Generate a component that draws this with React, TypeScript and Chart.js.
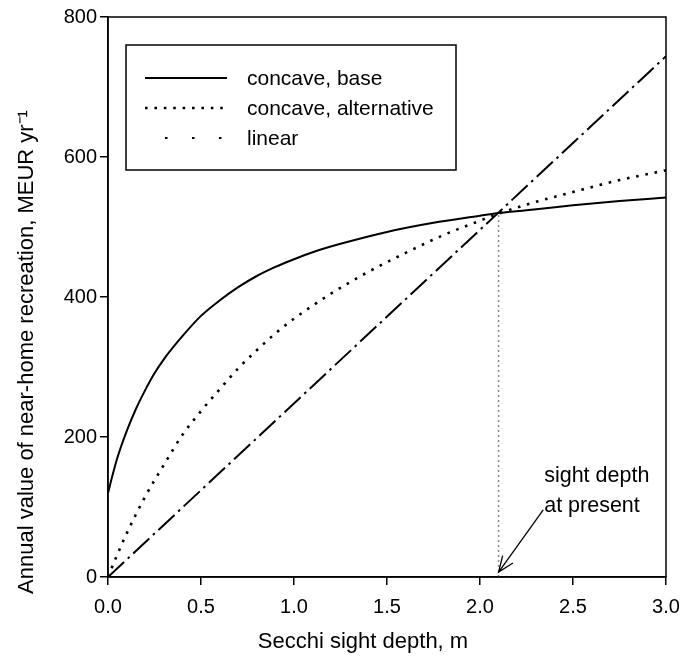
import React, { useEffect, useRef } from "react";
import { Chart, registerables } from "chart.js";

Chart.register(...registerables);

// ---- data ----
const seriesLabels = ["concave, base", "concave, alternative", "linear"];

const baseX = [0, 0.025, 0.05, 0.1, 0.15, 0.2, 0.25, 0.3, 0.4, 0.5, 0.6, 0.7, 0.8, 0.9, 1.0, 1.1, 1.25, 1.5, 1.75, 2.0, 2.1, 2.25, 2.5, 2.75, 3.0];
const baseY = [120, 146, 170, 208, 240, 267, 291, 311, 344, 373, 395, 414, 430, 443, 454, 464, 476, 493, 506, 516, 520, 524, 531, 537, 542];

const altX = [0, 0.05, 0.1, 0.2, 0.3, 0.4, 0.5, 0.6, 0.7, 0.8, 0.9, 1.0, 1.2, 1.4, 1.6, 1.8, 2.0, 2.1, 2.25, 2.5, 2.75, 3.0];
const altY = [0, 32, 62, 115, 160, 203, 237, 268, 298, 324, 348, 369, 405, 436, 463, 488, 509, 519, 532, 550, 567, 581];

const linX = [0, 3.0];
const linY = [0, 744];

const presentX = [2.1, 2.1];
const presentY = [0, 520];

const xTicks = [0, 0.5, 1.0, 1.5, 2.0, 2.5, 3.0];
const yTicks = [0, 200, 400, 600, 800];

const xTitle = "Secchi sight depth, m";
const yTitle = "Annual value of near-home recreation, MEUR yr\u207B\u00B9";

const noteLines = ["sight depth", "at present"];
const noteX = 2.345;
const noteY = [136, 93];
const arrowFrom = [2.34, 96];
const arrowTo = [2.1, 7];

const FONT = '"Liberation Sans", Arial, Helvetica, sans-serif';

const pts = (xs: number[], ys: number[]) => xs.map((x, i) => ({ x, y: ys[i] }));

const decorPlugin = {
  id: "decor",
  afterDraw(chart: any) {
    const { ctx, chartArea, scales } = chart;
    const { left, right, top, bottom } = chartArea;
    const xs = scales.x;
    const ys = scales.y;
    ctx.save();

    // frame
    ctx.strokeStyle = "#000";
    ctx.lineWidth = 1.5;
    ctx.setLineDash([]);
    ctx.strokeRect(left, top, right - left, bottom - top);

    // legend box
    const lx = left + 18;
    const ly = top + 28;
    const lw = 330;
    const lh = 125;
    ctx.fillStyle = "#fff";
    ctx.fillRect(lx, ly, lw, lh);
    ctx.lineWidth = 1.5;
    ctx.strokeRect(lx, ly, lw, lh);

    const rowsY = [top + 61, top + 91, top + 121];
    const sx0 = lx + 19;
    const sx1 = lx + 101;
    const tx = lx + 121;
    chart.data.datasets.slice(0, 3).forEach((ds: any, i: number) => {
      ctx.save();
      ctx.strokeStyle = ds.borderColor;
      ctx.lineWidth = ds.borderWidth;
      ctx.lineCap = "butt";
      if (i === 2) {
        ctx.setLineDash([2.5, 24.5]);
        ctx.lineDashOffset = 7;
      } else {
        ctx.setLineDash(ds.borderDash || []);
      }
      ctx.beginPath();
      ctx.moveTo(sx0, rowsY[i]);
      ctx.lineTo(sx1, rowsY[i]);
      ctx.stroke();
      ctx.restore();
      ctx.fillStyle = "#000";
      ctx.font = `21px ${FONT}`;
      ctx.textAlign = "left";
      ctx.textBaseline = "middle";
      ctx.fillText(ds.label, tx, rowsY[i] + 1);
    });

    // axis titles
    ctx.fillStyle = "#000";
    ctx.font = `22px ${FONT}`;
    ctx.textAlign = "center";
    ctx.textBaseline = "alphabetic";
    ctx.fillText(xTitle, 363, 648);

    ctx.save();
    ctx.translate(27, 352);
    ctx.rotate(-Math.PI / 2);
    ctx.textBaseline = "middle";
    ctx.fillText(yTitle, 0, 0);
    ctx.restore();

    // annotation text
    ctx.font = `21.5px ${FONT}`;
    ctx.textAlign = "left";
    ctx.textBaseline = "alphabetic";
    noteLines.forEach((t, i) => {
      ctx.fillText(t, xs.getPixelForValue(noteX), ys.getPixelForValue(noteY[i]));
    });

    // arrow
    const ax0 = xs.getPixelForValue(arrowFrom[0]);
    const ay0 = ys.getPixelForValue(arrowFrom[1]);
    const ax1 = xs.getPixelForValue(arrowTo[0]);
    const ay1 = ys.getPixelForValue(arrowTo[1]);
    ctx.strokeStyle = "#000";
    ctx.lineWidth = 1.3;
    ctx.beginPath();
    ctx.moveTo(ax0, ay0);
    ctx.lineTo(ax1, ay1);
    const ang = Math.atan2(ay0 - ay1, ax0 - ax1);
    const hl = 17;
    const spread = 0.38;
    ctx.moveTo(ax1 + hl * Math.cos(ang - spread), ay1 + hl * Math.sin(ang - spread));
    ctx.lineTo(ax1, ay1);
    ctx.lineTo(ax1 + hl * Math.cos(ang + spread), ay1 + hl * Math.sin(ang + spread));
    ctx.stroke();

    ctx.restore();
  },
};

export default function App() {
  const ref = useRef<HTMLCanvasElement | null>(null);

  useEffect(() => {
    if (!ref.current) return;
    const chart = new Chart(ref.current, {
      type: "line",
      data: {
        datasets: [
          {
            label: seriesLabels[0],
            data: pts(baseX, baseY),
            borderColor: "#000",
            borderWidth: 2,
            pointRadius: 0,
            fill: false,
            cubicInterpolationMode: "monotone",
          },
          {
            label: seriesLabels[1],
            data: pts(altX, altY),
            borderColor: "#000",
            borderWidth: 2.6,
            borderDash: [2.6, 6.8],
            borderCapStyle: "butt",
            pointRadius: 0,
            fill: false,
            cubicInterpolationMode: "monotone",
          },
          {
            label: seriesLabels[2],
            data: pts(linX, linY),
            borderColor: "#000",
            borderWidth: 2,
            borderDash: [22, 5, 2.5, 5],
            pointRadius: 0,
            fill: false,
          },
          {
            label: "present",
            data: pts(presentX, presentY),
            borderColor: "#888",
            borderWidth: 1.5,
            borderDash: [2, 3],
            pointRadius: 0,
            fill: false,
          },
        ],
      },
      options: {
        animation: false,
        responsive: false,
        layout: { padding: { left: 0, top: 17, right: 17, bottom: 0 } },
        plugins: { legend: { display: false }, tooltip: { enabled: false }, title: { display: false } },
        scales: {
          x: {
            type: "linear",
            min: 0,
            max: 3,
            afterBuildTicks: (s: any) => {
              s.ticks = xTicks.map((v) => ({ value: v }));
            },
            afterFit: (s: any) => {
              s.height = 83;
              s.paddingLeft = 0;
              s.paddingRight = 0;
            },
            ticks: {
              callback: (v: any) => Number(v).toFixed(1),
              font: { family: FONT, size: 20 },
              color: "#000",
              padding: 10,
              maxRotation: 0,
              autoSkip: false,
            },
            grid: { drawOnChartArea: false, drawTicks: true, tickLength: 8, color: "#000", lineWidth: 1.5 },
            border: { display: true, color: "#000", width: 1.5 },
          },
          y: {
            type: "linear",
            min: 0,
            max: 800,
            afterBuildTicks: (s: any) => {
              s.ticks = yTicks.map((v) => ({ value: v }));
            },
            afterFit: (s: any) => {
              s.width = 108;
              s.paddingTop = 0;
              s.paddingBottom = 0;
            },
            ticks: {
              callback: (v: any) => String(v),
              font: { family: FONT, size: 20 },
              color: "#000",
              padding: 3,
              autoSkip: false,
            },
            grid: { drawOnChartArea: false, drawTicks: true, tickLength: 8, color: "#000", lineWidth: 1.5 },
            border: { display: true, color: "#000", width: 1.5 },
          },
        },
      },
      plugins: [decorPlugin],
    } as any);
    return () => chart.destroy();
  }, []);

  return (
    <div style={{ position: "absolute", left: 0, top: 0, width: 683, height: 660, background: "#fff" }}>
      <canvas ref={ref} width={683} height={660} />
    </div>
  );
}
